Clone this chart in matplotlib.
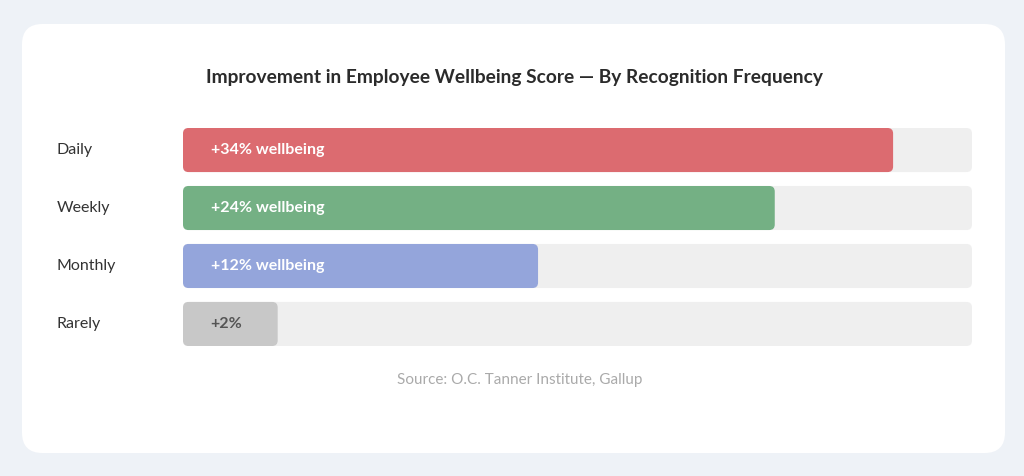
import matplotlib.pyplot as plt
from matplotlib.patches import FancyBboxPatch

categories = ['Daily', 'Weekly', 'Monthly', 'Rarely']
labels = ['+34% wellbeing', '+24% wellbeing', '+12% wellbeing', '+2%']
values = [34, 24, 12, 2]
bar_fill = [90, 75, 45, 12]  # displayed bar length, % of track
colors = ['#dc6b70', '#74b084', '#94a5db', '#c8c8c8']
text_colors = ['white', 'white', 'white', '#555555']

plt.rcParams['font.family'] = ['Lato', 'DejaVu Sans']
W, H = 1024, 476
fig = plt.figure(figsize=(W / 100, H / 100), dpi=100)
fig.patch.set_facecolor('#eef2f7')

# white card
card = FancyBboxPatch((22 / W, 1 - 453 / H), (1005 - 22) / W, (453 - 24) / H,
                      boxstyle='round,pad=0,rounding_size=0.02', mutation_aspect=W / H,
                      transform=fig.transFigure, facecolor='white', edgecolor='none', zorder=-5)
fig.patches.append(card)

fig.text(514 / W, 1 - 78 / H, 'Improvement in Employee Wellbeing Score \u2014 By Recognition Frequency',
         ha='center', va='center', fontsize=13.8, fontweight='bold', color='#2b2b2b')

ax = fig.add_axes([183 / W, 1 - 346 / H, 789 / W, 218 / H])
ax.set_zorder(2)
ax.patch.set_alpha(0)
ax.set_xlim(0, 100)
ax.set_ylim(3.38, -0.38)
ax.axis('off')
asp = (1 / 58) / (1 / 7.89)
h = 0.76
for i, cat in enumerate(categories):
    ax.add_patch(FancyBboxPatch((0, i - h / 2), 100, h, boxstyle='round,pad=0,rounding_size=0.7',
                                mutation_aspect=asp, facecolor='#efefef', edgecolor='none'))
    ax.add_patch(FancyBboxPatch((0, i - h / 2), bar_fill[i], h, boxstyle='round,pad=0,rounding_size=0.7',
                                mutation_aspect=asp, facecolor=colors[i], edgecolor='none'))
    ax.text(3.5, i, labels[i], ha='left', va='center', fontsize=11.5, fontweight='bold',
            color=text_colors[i])
    fig.text(57 / W, 1 - (150 + 58 * i) / H, cat, ha='left', va='center', fontsize=11.5, color='#333333')

fig.text(520 / W, 1 - 380 / H, 'Source: O.C. Tanner Institute, Gallup', ha='center', va='center',
         fontsize=11, color='#aaaaaa')

fig.savefig('out.png', dpi=100, facecolor=fig.get_facecolor())
